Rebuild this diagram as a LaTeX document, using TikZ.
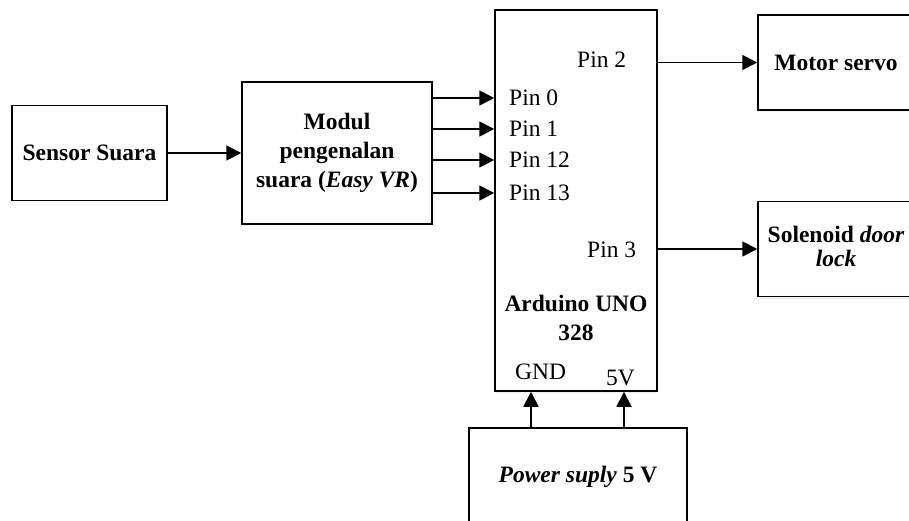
\documentclass[tikz,border=0pt]{standalone}
\usepackage{fontspec}
\setmainfont{Liberation Serif}
\usetikzlibrary{arrows.meta,shadows}

\newcommand{\diagfont}{\fontsize{23.5}{29}\selectfont}

\begin{document}
\begin{tikzpicture}[
    x=1pt, y=-1pt,
    block/.style={rectangle, draw=black, line width=1.5pt, fill=white, align=center, font=\diagfont\bfseries, inner sep=2pt,
        drop shadow={shadow xshift=0pt, shadow yshift=-2pt, opacity=0.25, fill=blue!25}},
    pin/.style={anchor=west, inner sep=0pt, font=\diagfont},
    arrow/.style={-{Triangle[length=15pt,width=15pt]}, line width=1.8pt}
]
\useasboundingbox (0,0) rectangle (909,521);
\clip (0,0) rectangle (909,521);

% blocks
\node[block, minimum width=155pt, minimum height=95pt] (sensor) at (89.5,153) {Sensor Suara};
\node[block, minimum width=190pt, minimum height=142pt] (modul) at (337,153) {Modul\\pengenalan\\suara (\textit{Easy VR})};
\node[block, minimum width=162pt, minimum height=381pt] (ard) at (576,200.5) {};
\node[block, minimum width=156pt, minimum height=95pt] (servo) at (836,62.5) {Motor servo};
\node[block, minimum width=156pt, minimum height=95pt, text depth=6pt] (solenoid) at (836,249) {Solenoid \textit{door}\\[-5pt]\textit{lock}};
\node[block, minimum width=218pt, minimum height=98pt] (power) at (578,477) {\textit{Power suply} 5 V};

% pins of the arduino
\node[pin] (p0) at (509,98) {Pin 0};
\node[pin] (p1) at (509,129) {Pin 1};
\node[pin] (p12) at (509,160) {Pin 12};
\node[pin] (p13) at (509,193) {Pin 13};
\node[pin] (p2) at (577,60) {Pin 2};
\node[pin] (p3) at (587,250) {Pin 3};
\node[pin] (gnd) at (515,372) {GND};
\node[pin] (v5) at (606,378) {5V};
\node[font=\diagfont\bfseries, align=center] (ardname) at (576,318) {Arduino UNO\\328};

\coordinate (gndpin) at (531,0);
\coordinate (v5pin) at (624,0);

\draw[arrow] (sensor) -- (modul);
\foreach \p in {p0,p1,p12,p13}
    \draw[arrow] (modul.east |- \p) -- (ard.west |- \p);
\draw[arrow] (ard.east |- servo) -- (servo);
\draw[arrow] (ard.east |- solenoid) -- (solenoid);
\draw[arrow] (power.north -| gndpin) -- (ard.south -| gndpin);
\draw[arrow] (power.north -| v5pin) -- (ard.south -| v5pin);
\end{tikzpicture}
\end{document}
